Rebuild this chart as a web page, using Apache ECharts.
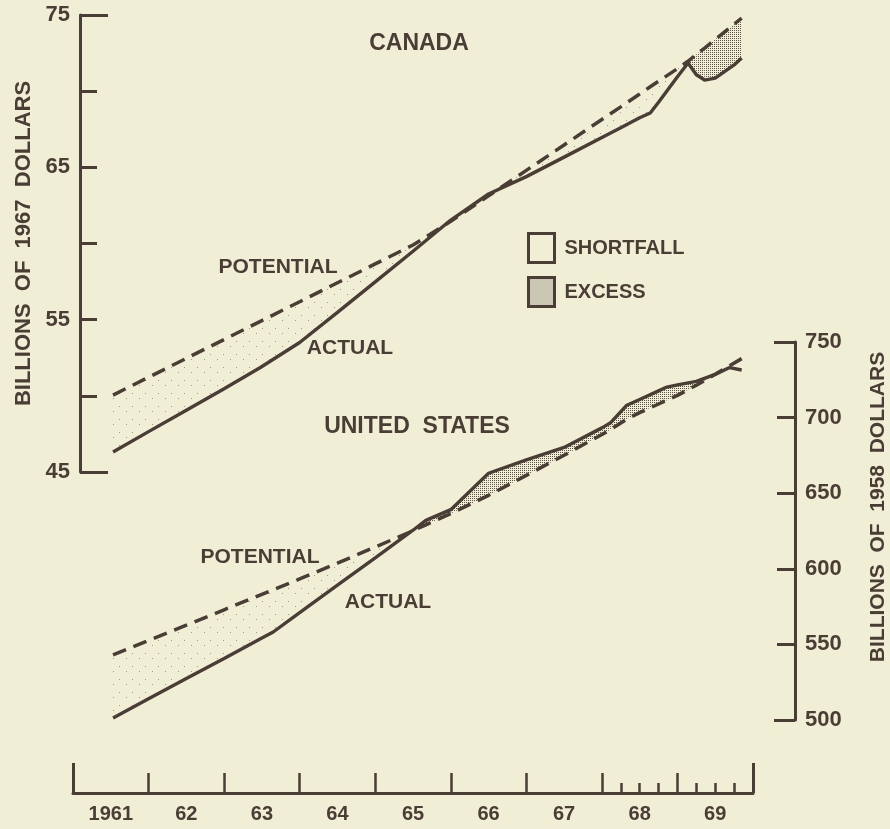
<!DOCTYPE html>
<html>
<head>
<meta charset="utf-8">
<script src="https://cdn.jsdelivr.net/npm/echarts@6/dist/echarts.min.js"></script>
<style>
html,body{margin:0;padding:0;background:#f0efd6;}
#chart{width:890px;height:829px;}
</style>
</head>
<body>
<div id="chart"></div>
<script>
// ---------------- DATA ----------------
const yearLabels = ['1961','62','63','64','65','66','67','68','69'];
const labelYears = [1961.5,1962.5,1963.5,1964.5,1965.5,1966.5,1967.5,1968.5,1969.5];
const majorTickYears = [1962,1963,1964,1965,1966,1967,1968,1969];
const endTickYears = [1961,1970];
const quarterTickYears = [1968.25,1968.5,1968.75,1969.25,1969.5,1969.75];

const caLabelTicks = [45,55,65,75];
const caInnerTicks = [50,55,60,65,70];
const caEndTicks = [45,75];
const usLabelTicks = [500,550,600,650,700,750];
const usInnerTicks = [550,600,650,700];
const usEndTicks = [500,750];

// Canada (billions of 1967 dollars)
const caYears = [1961.53,1962,1962.5,1963,1963.48,1964,1964.5,1965,1965.5,1966,1966.5,1967,1967.5,1968,1968.25,1968.5,1968.64,1968.75,1969,1969.14,1969.25,1969.36,1969.5,1969.75,1969.85];
const caPotential = [50.05,51.22,52.46,53.70,54.89,56.18,57.42,58.66,59.90,61.46,63.13,64.80,66.47,68.14,68.97,69.81,70.29,70.65,71.48,71.96,72.42,72.83,73.39,74.40,74.80];
const caActual    = [46.31,47.65,49.06,50.47,51.86,53.50,55.48,57.48,59.49,61.54,63.25,64.39,65.67,66.96,67.60,68.25,68.57,69.27,70.95,71.85,71.08,70.73,70.86,71.72,72.18];
const caDenseFrom = 1969.14;

// United States (billions of 1958 dollars)
const usYears = [1961.53,1962,1962.5,1963,1963.5,1963.65,1964,1964.5,1965,1965.5,1965.67,1966,1966.5,1967,1967.5,1968,1968.11,1968.33,1968.5,1968.75,1968.86,1969,1969.25,1969.5,1969.69,1969.85];
const usPotential = [543.0,552.6,562.7,572.9,583.1,586.1,593.3,603.7,614.4,625.2,629.1,636.5,648.6,661.8,675.1,688.8,691.9,699.0,703.3,709.0,711.5,714.7,721.4,728.7,734.3,739.0];
const usActual    = [501.3,514.0,527.4,540.7,554.2,558.2,571.0,589.2,607.3,625.5,632.0,639.1,663.2,672.0,680.3,693.2,696.4,708.2,712.0,717.7,720.2,721.6,724.0,728.6,733.1,731.5];

// ---------------- STYLE ----------------
const BG = '#f0efd6';
const INK = '#4a3d35';
const FONT = '"Liberation Sans", Arial, sans-serif';

function pattern(size, dots, color) {
  const c = document.createElement('canvas');
  c.width = size; c.height = size;
  const ctx = c.getContext('2d');
  ctx.fillStyle = color;
  dots.forEach(d => ctx.fillRect(d[0], d[1], 1, 1));
  return { image: c, repeat: 'repeat' };
}
const densePat = pattern(2, [[0,0]], '#5a4e46');
const sparsePat = pattern(13, [[2,3],[9,8]], '#a39888');

function pairs(xs, ys) { return xs.map((x, i) => [x, ys[i]]); }

// segments between the potential and actual curves, split by kind
function segments(xs, pot, act, kind, denseFrom) {
  const rows = [];
  for (let i = 0; i < xs.length - 1; i++) {
    const diff = (act[i] + act[i + 1]) - (pot[i] + pot[i + 1]);
    let k;
    if (diff > 0) k = 'excess';
    else if (denseFrom != null && xs[i] >= denseFrom) k = 'shortDense';
    else k = 'short';
    if (k === kind) rows.push([xs[i], xs[i + 1], pot[i], pot[i + 1], act[i], act[i + 1]]);
  }
  return rows;
}

function bandRender(fill) {
  return function (params, api) {
    const p = [
      api.coord([api.value(0), api.value(2)]),
      api.coord([api.value(1), api.value(3)]),
      api.coord([api.value(1), api.value(5)]),
      api.coord([api.value(0), api.value(4)])
    ];
    return { type: 'polygon', shape: { points: p }, style: { fill: fill, stroke: null } };
  };
}

function countrySeries(prefix, xs, pot, act, xi, yi, denseFrom) {
  const mk = (name, kind, fill) => ({
    name: name, type: 'custom', xAxisIndex: xi, yAxisIndex: yi, silent: true, z: 1,
    renderItem: bandRender(fill), encode: { x: [0, 1], y: [2, 3, 4, 5] },
    data: segments(xs, pot, act, kind, denseFrom)
  });
  return [
    mk('SHORTFALL', 'short', sparsePat),
    mk('SHORTFALL', 'shortDense', densePat),
    mk('EXCESS', 'excess', densePat),
    {
      name: prefix + ' potential', type: 'line', xAxisIndex: xi, yAxisIndex: yi,
      data: pairs(xs, pot), showSymbol: false, silent: true,
      lineStyle: { color: INK, width: 3.5, type: [14, 8], cap: 'butt' }, z: 3
    },
    {
      name: prefix + ' actual', type: 'line', xAxisIndex: xi, yAxisIndex: yi,
      data: pairs(xs, act), showSymbol: false, silent: true,
      lineStyle: { color: INK, width: 3.4 }, z: 4
    }
  ];
}

const L = 73, W = 680;
const gridBase = { left: L, width: W, outerBoundsMode: 'none', containLabel: false };
const grids = [
  Object.assign({ top: 15, height: 457 }, gridBase),   // 0 Canada
  Object.assign({ top: 342, height: 378 }, gridBase),  // 1 US
  Object.assign({ top: 763, height: 30 }, gridBase),   // 2 x main
  Object.assign({ top: 763, height: 30 }, gridBase),   // 3 x ends
  Object.assign({ top: 763, height: 30 }, gridBase),   // 4 x quarters
  Object.assign({ top: 15, height: 457 }, gridBase),   // 5 Canada end caps
  Object.assign({ top: 342, height: 378 }, gridBase)   // 6 US end caps
];

const hiddenX = i => ({ gridIndex: i, type: 'value', min: 1961, max: 1970, show: false, splitLine: { show: false } });
const hiddenY = i => ({ gridIndex: i, type: 'value', min: 0, max: 1, show: false, splitLine: { show: false } });
const txt = (size) => ({ color: INK, fontFamily: FONT, fontSize: size, fontWeight: 'bold' });

const option = {
  backgroundColor: BG,
  animation: false,
  textStyle: { fontFamily: FONT, color: INK },
  grid: grids,
  xAxis: [
    hiddenX(0),
    hiddenX(1),
    {
      gridIndex: 2, type: 'value', min: 1961, max: 1970,
      axisLine: { show: true, lineStyle: { color: INK, width: 3 } },
      axisTick: { show: true, inside: true, length: 20, customValues: majorTickYears, lineStyle: { color: INK, width: 2.5 } },
      axisLabel: Object.assign({ show: true, customValues: labelYears, margin: 11,
        formatter: v => yearLabels[Math.round(v - 1961.5)] }, txt(20)),
      splitLine: { show: false }
    },
    {
      gridIndex: 3, type: 'value', min: 1961, max: 1970,
      axisLine: { show: false },
      axisTick: { show: true, inside: true, length: 30, customValues: endTickYears, lineStyle: { color: INK, width: 3 } },
      axisLabel: { show: false }, splitLine: { show: false }
    },
    {
      gridIndex: 4, type: 'value', min: 1961, max: 1970,
      axisLine: { show: false },
      axisTick: { show: true, inside: true, length: 10, customValues: quarterTickYears, lineStyle: { color: INK, width: 2.5 } },
      axisLabel: { show: false }, splitLine: { show: false }
    },
    hiddenX(5),
    hiddenX(6)
  ],
  yAxis: [
    {
      gridIndex: 0, type: 'value', min: 45, max: 75, interval: 5, position: 'left', offset: -7,
      axisLine: { show: true, lineStyle: { color: INK, width: 3 } },
      axisTick: { show: true, inside: true, length: 17, customValues: caInnerTicks, lineStyle: { color: INK, width: 3 } },
      axisLabel: Object.assign({ show: true, customValues: caLabelTicks, margin: 10 }, txt(22)),
      splitLine: { show: false },
      name: 'BILLIONS  OF  1967  DOLLARS', nameLocation: 'middle', nameGap: 44, nameRotate: 90,
      nameTextStyle: txt(22)
    },
    {
      gridIndex: 1, type: 'value', min: 500, max: 750, interval: 50, position: 'right', offset: 42,
      axisLine: { show: true, lineStyle: { color: INK, width: 3 } },
      axisTick: { show: true, inside: true, length: 18, customValues: usInnerTicks, lineStyle: { color: INK, width: 3 } },
      axisLabel: Object.assign({ show: true, customValues: usLabelTicks, margin: 10 }, txt(22)),
      splitLine: { show: false },
      name: 'BILLIONS  OF  1958  DOLLARS', nameLocation: 'middle', nameGap: 73, nameRotate: 90,
      nameTextStyle: Object.assign({ padding: [0, 0, 0, 48] }, txt(21))
    },
    hiddenY(2), hiddenY(3), hiddenY(4),
    {
      gridIndex: 5, type: 'value', min: 45, max: 75, position: 'left', offset: -7,
      axisLine: { show: false },
      axisTick: { show: true, inside: true, length: 28, customValues: caEndTicks, lineStyle: { color: INK, width: 3 } },
      axisLabel: { show: false }, splitLine: { show: false }
    },
    {
      gridIndex: 6, type: 'value', min: 500, max: 750, position: 'right', offset: 42,
      axisLine: { show: false },
      axisTick: { show: true, inside: true, length: 21, customValues: usEndTicks, lineStyle: { color: INK, width: 3 } },
      axisLabel: { show: false }, splitLine: { show: false }
    }
  ],
  legend: {
    show: true, orient: 'vertical', left: 527, top: 232, padding: 0,
    itemWidth: 26, itemHeight: 29, itemGap: 12,
    selectedMode: false, icon: 'rect',
    textStyle: Object.assign({ padding: [0, 0, 0, 5] }, txt(20)),
    data: [
      { name: 'SHORTFALL', icon: 'rect', itemStyle: { color: BG, borderColor: INK, borderWidth: 3, opacity: 1 } },
      { name: 'EXCESS', icon: 'rect', itemStyle: { color: densePat, borderColor: INK, borderWidth: 3, opacity: 1 } }
    ]
  },
  graphic: [
    { type: 'text', x: 419, y: 44, style: { text: 'CANADA', align: 'center', verticalAlign: 'middle', fill: INK, font: 'bold 23px ' + FONT } },
    { type: 'text', x: 278, y: 267, style: { text: 'POTENTIAL', align: 'center', verticalAlign: 'middle', fill: INK, font: 'bold 21px ' + FONT } },
    { type: 'text', x: 350, y: 348, style: { text: 'ACTUAL', align: 'center', verticalAlign: 'middle', fill: INK, font: 'bold 21px ' + FONT } },
    { type: 'text', x: 417, y: 427, style: { text: 'UNITED  STATES', align: 'center', verticalAlign: 'middle', fill: INK, font: 'bold 23px ' + FONT } },
    { type: 'text', x: 260, y: 557, style: { text: 'POTENTIAL', align: 'center', verticalAlign: 'middle', fill: INK, font: 'bold 21px ' + FONT } },
    { type: 'text', x: 388, y: 602, style: { text: 'ACTUAL', align: 'center', verticalAlign: 'middle', fill: INK, font: 'bold 21px ' + FONT } }
  ],
  series: [].concat(
    countrySeries('Canada', caYears, caPotential, caActual, 0, 0, caDenseFrom),
    countrySeries('United States', usYears, usPotential, usActual, 1, 1, null)
  )
};

const chart = echarts.init(document.getElementById('chart'), null, { renderer: 'canvas' });
chart.setOption(option);
</script>
</body>
</html>
